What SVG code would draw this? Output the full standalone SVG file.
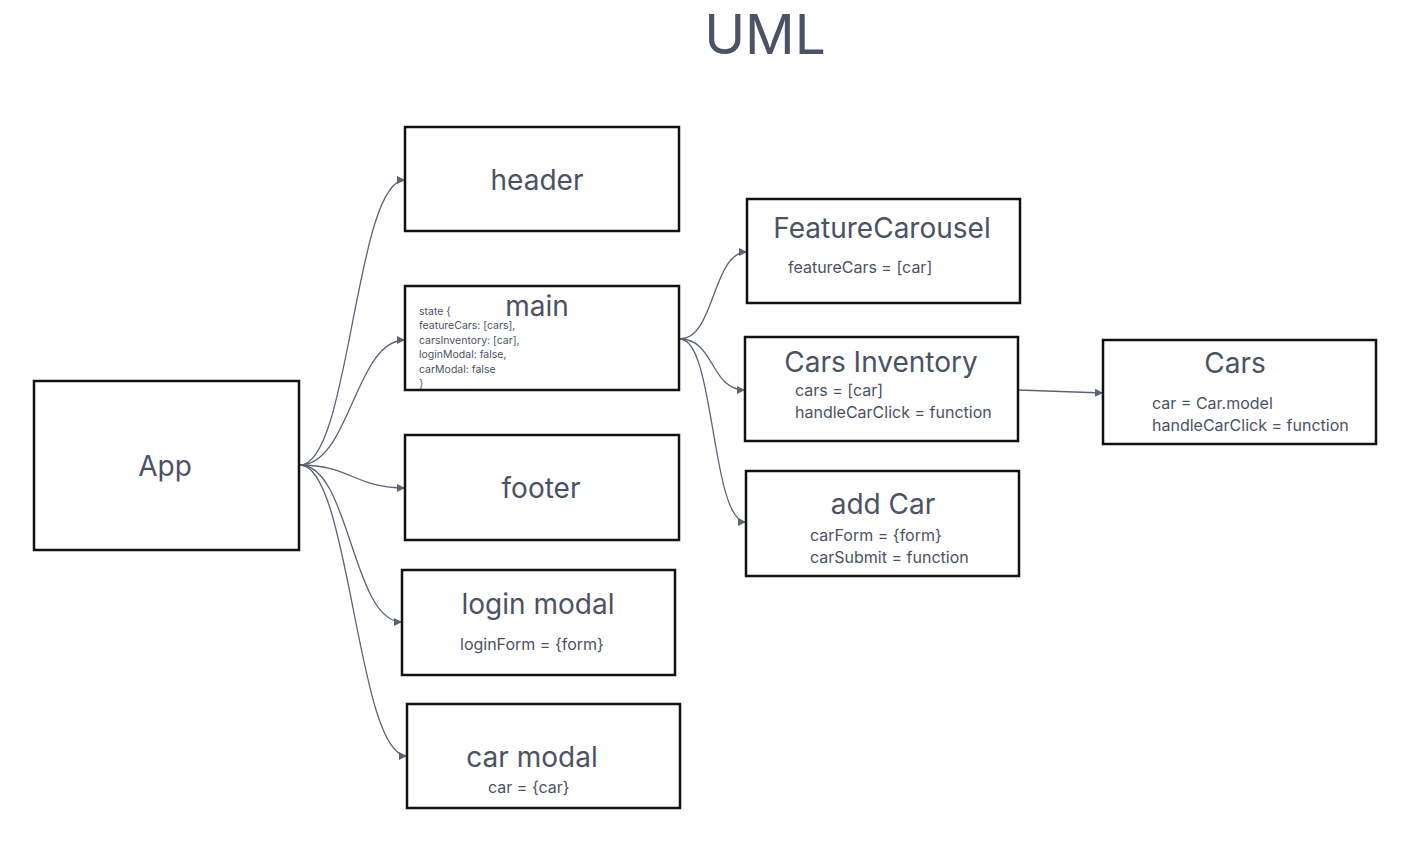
<svg xmlns="http://www.w3.org/2000/svg" width="1410" height="868" viewBox="0 0 1410 868">
<defs>
<style>
.box{fill:#fff;stroke:#111;stroke-width:2.5}
.t{font-family:Inter,"Noto Sans",sans-serif;fill:#4b5263;text-anchor:middle;font-size:28px}
.a{font-family:Inter,"Noto Sans",sans-serif;fill:#4b5263;font-size:16px}
.s{font-family:Inter,"Noto Sans",sans-serif;fill:#4b5263;font-size:10.5px}
.c{fill:none;stroke:#5d6373;stroke-width:1.3}
</style>
<marker id="arr" markerWidth="10" markerHeight="10" refX="8" refY="4" orient="auto" markerUnits="userSpaceOnUse">
<path d="M0,0 L8,4 L0,8 Z" fill="#5d6373"/>
</marker>
</defs>
<rect width="1410" height="868" fill="#fff"/>
<text x="765" y="54" font-family="Inter,'Noto Sans',sans-serif" font-size="55" fill="#4b5263" text-anchor="middle">UML</text>
<g id="connectors">
<path class="c" marker-end="url(#arr)" d="M300,465 C350,465 355,180 405,180"/>
<path class="c" marker-end="url(#arr)" d="M300,465 C350,465 355,340 405,340"/>
<path class="c" marker-end="url(#arr)" d="M300,465 C350,465 355,488 405,488"/>
<path class="c" marker-end="url(#arr)" d="M300,465 C350,465 352,622 402,622"/>
<path class="c" marker-end="url(#arr)" d="M300,465 C350,465 357,756 407,756"/>
<path class="c" marker-end="url(#arr)" d="M680,339 C715,339 712,252 747,252"/>
<path class="c" marker-end="url(#arr)" d="M680,339 C715,339 710,390 745,390"/>
<path class="c" marker-end="url(#arr)" d="M680,339 C715,339 711,522 746,522"/>
<path class="c" marker-end="url(#arr)" d="M1018,390 L1103,393"/>
</g>
<g id="app"><rect class="box" x="34" y="381" width="265" height="169"/><text class="t" x="165" y="476">App</text></g>
<g id="header"><rect class="box" x="405" y="127" width="274" height="104"/><text class="t" x="537" y="190">header</text></g>
<g id="main"><rect class="box" x="405" y="286" width="274" height="104"/><text class="t" x="537" y="316">main</text>
<text class="s" x="419" y="315">state {</text>
<text class="s" x="419" y="329">featureCars: [cars],</text>
<text class="s" x="419" y="344">carsInventory: [car],</text>
<text class="s" x="419" y="358">loginModal: false,</text>
<text class="s" x="419" y="373">carModal: false</text>
<text class="s" x="419" y="387">}</text></g>
<g id="footer"><rect class="box" x="405" y="435" width="274" height="105"/><text class="t" x="541" y="498">footer</text></g>
<g id="loginModal"><rect class="box" x="402" y="570" width="273" height="105"/><text class="t" x="538" y="614">login modal</text><text class="a" x="460" y="650">loginForm = {form}</text></g>
<g id="carModal"><rect class="box" x="407" y="704" width="273" height="104"/><text class="t" x="532" y="767">car modal</text><text class="a" x="488" y="793">car = {car}</text></g>
<g id="featureCarousel"><rect class="box" x="747" y="199" width="273" height="104"/><text class="t" x="882" y="238">FeatureCarousel</text><text class="a" x="788" y="273">featureCars = [car]</text></g>
<g id="carsInventory"><rect class="box" x="745" y="337" width="273" height="104"/><text class="t" x="881" y="372">Cars Inventory</text><text class="a" x="795" y="396">cars = [car]</text><text class="a" x="795" y="418">handleCarClick = function</text></g>
<g id="addCar"><rect class="box" x="746" y="471" width="273" height="105"/><text class="t" x="883" y="514">add Car</text><text class="a" x="810" y="541">carForm = {form}</text><text class="a" x="810" y="563">carSubmit = function</text></g>
<g id="cars"><rect class="box" x="1103" y="340" width="273" height="104"/><text class="t" x="1235" y="373">Cars</text><text class="a" x="1152" y="409">car = Car.model</text><text class="a" x="1152" y="431">handleCarClick = function</text></g>
</svg>
